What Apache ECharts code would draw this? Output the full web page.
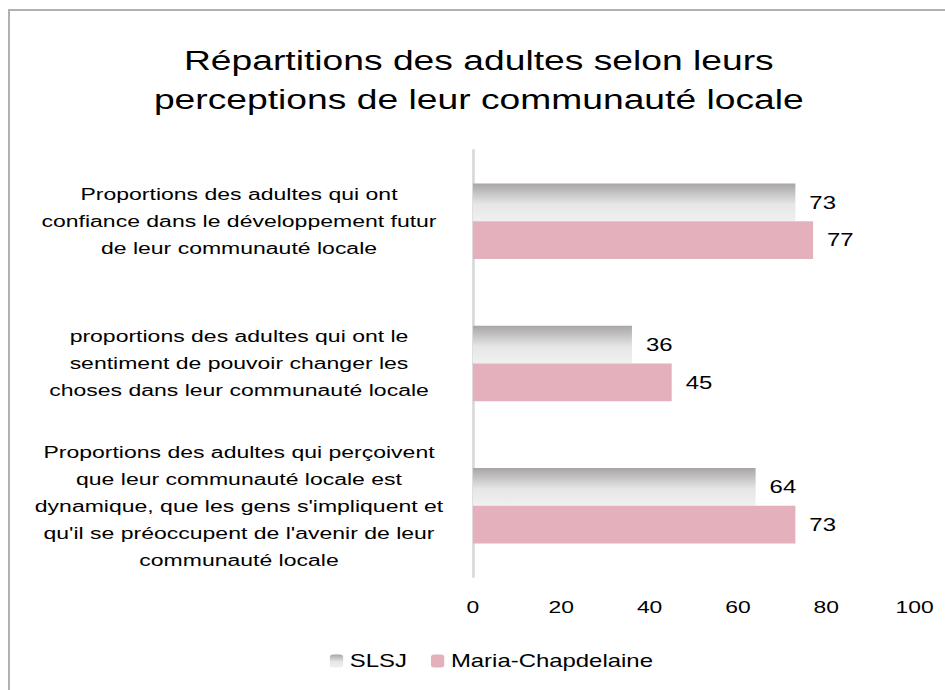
<!DOCTYPE html>
<html>
<head>
<meta charset="utf-8">
<script src="https://cdn.jsdelivr.net/npm/echarts@6/dist/echarts.min.js"></script>
<style>
  html, body { margin: 0; padding: 0; background: #fff; overflow: hidden; }
  #frame { position: absolute; left: 8px; top: 9px; width: 960px; height: 700px;
           border-left: 2px solid #b3b0b0; border-top: 2px solid #b3b0b0; }
  /* the original's text is wide, so the chart is drawn narrow and stretched */
  #chart { position: absolute; left: 0; top: 0; width: 710.5px; height: 690px;
           transform: scaleX(1.33); transform-origin: 0 0; }
</style>
</head>
<body>
<div id="frame"></div>
<div id="chart"></div>
<script>
const categories = [
  "Proportions des adultes qui perçoivent\nque leur communauté locale est\ndynamique, que les gens s'impliquent et\nqu'il se préoccupent de l'avenir de leur\ncommunauté locale",
  "proportions des adultes qui ont le\nsentiment de pouvoir changer les\nchoses dans leur communauté locale",
  "Proportions des adultes qui ont\nconfiance dans le développement futur\nde leur communauté locale"
];
const seriesNames = ["SLSJ", "Maria-Chapdelaine"];
const slsjValues = [64, 36, 73];
const mariaValues = [73, 45, 77];

const chart = echarts.init(document.getElementById("chart"), null, { renderer: "svg" });
const font = "Arial, 'Liberation Sans', sans-serif";

const grayGradient = new echarts.graphic.LinearGradient(0, 0, 0, 1, [
  { offset: 0, color: "#a8a5a5" },
  { offset: 0.55, color: "#e6e6e6" },
  { offset: 1, color: "#f0f0f0" }
]);

chart.setOption({
  animation: false,
  title: {
    text: "Répartitions des adultes selon leurs\nperceptions de leur communauté locale",
    left: 355,
    textAlign: "center",
    top: 36,
    textStyle: { fontFamily: font, fontSize: 28, fontWeight: "normal", color: "#000", lineHeight: 39 }
  },
  legend: {
    bottom: 15,
    left: 243,
    itemWidth: 10,
    itemHeight: 13,
    itemGap: 18,
    textStyle: { fontFamily: font, fontSize: 18, color: "#000" },
    data: seriesNames
  },
  grid: { left: 355.6, right: 23.3, top: 150, bottom: 113, containLabel: false },
  xAxis: {
    type: "value",
    min: 0,
    max: 100,
    interval: 20,
    axisLine: { show: false },
    axisTick: { show: false },
    splitLine: { show: false },
    axisLabel: { fontFamily: font, fontSize: 17.2, color: "#000", margin: 22 }
  },
  yAxis: {
    type: "category",
    data: categories,
    axisLine: { show: true, lineStyle: { color: "#d9d9d9", width: 2 } },
    axisTick: { show: false },
    axisLabel: {
      fontFamily: font, fontSize: 17.3, color: "#000",
      align: "center", margin: 175.9, lineHeight: 27
    }
  },
  series: [
    {
      name: seriesNames[0],
      type: "bar",
      data: slsjValues,
      barGap: "0%",
      barCategoryGap: "47%",
      itemStyle: { color: grayGradient },
      label: { show: true, position: "right", distance: 10.5, fontFamily: font, fontSize: 18, color: "#000" }
    },
    {
      name: seriesNames[1],
      type: "bar",
      data: mariaValues,
      barGap: "0%",
      barCategoryGap: "47%",
      itemStyle: { color: "#e4b0bb" },
      label: { show: true, position: "right", distance: 10.5, fontFamily: font, fontSize: 18, color: "#000" }
    }
  ]
});
</script>
</body>
</html>
